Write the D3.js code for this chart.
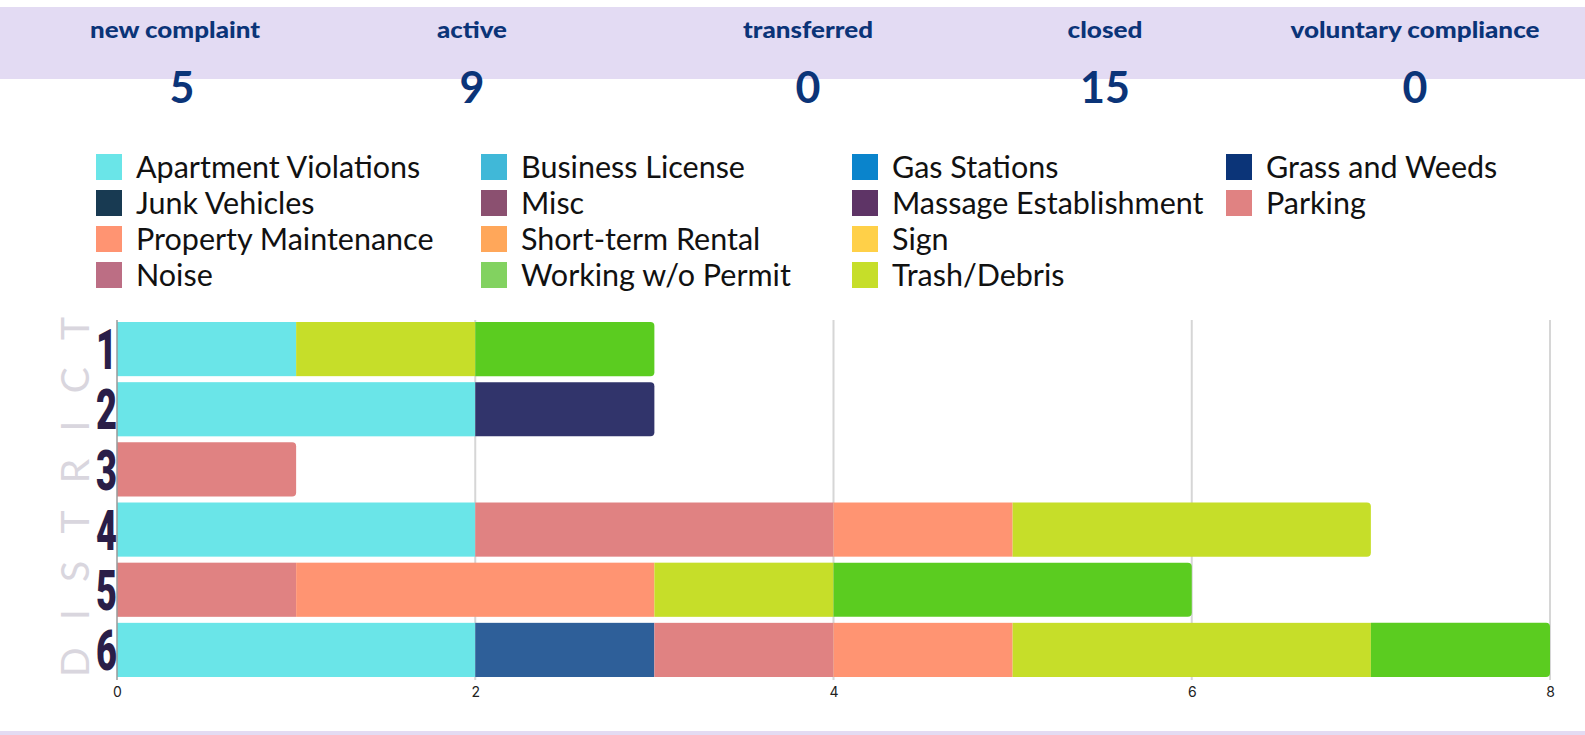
<!DOCTYPE html>
<html><head><meta charset="utf-8">
<script src="https://cdn.jsdelivr.net/npm/d3@7"></script>
<style>
html,body{margin:0;padding:0;background:#fff;}
svg{display:block;}
</style></head>
<body>
<svg id="c" width="1585" height="735"></svg>
<script>
// ---- data ----
const statLabels = ["new complaint","active","transferred","closed","voluntary compliance"];
const statValues = [5, 9, 0, 15, 0];

const districts = ["1","2","3","4","5","6"];

const legendCategories = ["Apartment Violations","Business License","Gas Stations","Grass and Weeds",
  "Junk Vehicles","Misc","Massage Establishment","Parking",
  "Property Maintenance","Short-term Rental","Sign",
  "Noise","Working w/o Permit","Trash/Debris"];
const legendColors = ["#6AE5E8","#40B8D8","#0A84CC","#0B3478",
  "#183A52","#8B5070","#5E3466","#E08282",
  "#FF9472","#FFA75A","#FFD048",
  "#BC6E84","#82D260","#C6DE29"];

// categories shown in the bars (stack order); three are not visible in the legend
const barCategories = ["Apartment Violations","Other A","Other B","Parking","Property Maintenance","Trash/Debris","Other C"];
const barColors     = ["#6AE5E8","#31346B","#2E5F99","#E08282","#FF9472","#C6DE29","#5BCC20"];

const apartmentViolations = [1,2,0,2,0,2];
const otherA              = [0,1,0,0,0,0];
const otherB              = [0,0,0,0,0,1];
const parking             = [0,0,1,2,1,1];
const propertyMaintenance = [0,0,0,1,2,1];
const trashDebris         = [1,0,0,2,1,2];
const otherC              = [1,0,0,0,2,1];

const xTicks = [0,2,4,6,8];

// ---- build ----
const seriesValues = [apartmentViolations, otherA, otherB, parking, propertyMaintenance, trashDebris, otherC];
const table = districts.map((d,i)=>{
  const row = {district:d};
  barCategories.forEach((c,j)=>row[c]=seriesValues[j][i]);
  return row;
});

const svg = d3.select("#c");
const W = 1585;

// header band
svg.append("rect").attr("x",0).attr("y",7).attr("width",W).attr("height",72).attr("fill","#E3DBF3");
svg.append("rect").attr("x",0).attr("y",731).attr("width",W).attr("height",4).attr("fill","#E3DBF3");

const statX = [175, 472, 808, 1105, 1415];
const statNumX = [182, 472, 808, 1105, 1415];
const statW = [170, 70, 130, 75, 249];
const hdr = svg.append("g");
statLabels.forEach((l,i)=>{
  hdr.append("text").attr("x",statX[i]).attr("y",38).attr("text-anchor","middle")
    .attr("font-family","Lato").attr("font-weight",900).attr("font-size",23)
    .attr("textLength",statW[i]).attr("lengthAdjust","spacingAndGlyphs")
    .attr("fill","#0B3478").text(l);
  hdr.append("text").attr("x",statNumX[i]).attr("y",103).attr("text-anchor","middle")
    .attr("font-family","Lato").attr("font-weight",700).attr("font-size",43)
    .attr("fill","#0B3478").text(statValues[i]);
});

// legend
const colX = [96, 481, 852, 1226];
const rowY = [167, 203, 239, 275];
const legendLayout = [
  [0,0],[1,0],[2,0],[3,0],
  [0,1],[1,1],[2,1],[3,1],
  [0,2],[1,2],[2,2],
  [0,3],[1,3],[2,3]
];
const lg = svg.append("g");
legendCategories.forEach((c,i)=>{
  const [col,row] = legendLayout[i];
  lg.append("rect").attr("x",colX[col]).attr("y",rowY[row]-13).attr("width",26).attr("height",26)
    .attr("fill",legendColors[i]);
  lg.append("text").attr("x",colX[col]+40).attr("y",rowY[row]).attr("dy","0.35em")
    .attr("font-family","Lato").attr("font-size",30.5).attr("fill","#111").text(c);
});

// chart
const x = d3.scaleLinear().domain([0,8]).range([117,1550]);
const y = d3.scaleBand().domain(districts).range([319,680]).paddingInner(0.1).paddingOuter(0.05);

// gridlines
svg.append("g").selectAll("line").data(xTicks.filter(t=>t>0)).join("line")
  .attr("x1",d=>x(d)).attr("x2",d=>x(d)).attr("y1",320).attr("y2",680)
  .attr("stroke","#D6D6D6").attr("stroke-width",2);

const stack = d3.stack().keys(barCategories)(table);
const colorOf = d3.scaleOrdinal().domain(barCategories).range(barColors);

// last non-empty segment per row
const lastKey = {};
table.forEach(r=>{ barCategories.forEach(c=>{ if(r[c]>0) lastKey[r.district]=c; }); });

const bars = svg.append("g");
stack.forEach(s=>{
  s.forEach(seg=>{
    if(seg[1]-seg[0] <= 0) return;
    const d = seg.data.district;
    const x0 = x(seg[0]), x1 = x(seg[1]), y0 = y(d), h = y.bandwidth();
    if(lastKey[d] === s.key){
      const r = 4;
      const p = d3.path();
      p.moveTo(x0,y0); p.lineTo(x1-r,y0); p.arcTo(x1,y0,x1,y0+r,r);
      p.lineTo(x1,y0+h-r); p.arcTo(x1,y0+h,x1-r,y0+h,r); p.lineTo(x0,y0+h); p.closePath();
      bars.append("path").attr("d",p.toString()).attr("fill",colorOf(s.key));
    } else {
      bars.append("rect").attr("x",x0).attr("y",y0).attr("width",x1-x0).attr("height",h)
        .attr("fill",colorOf(s.key));
    }
  });
});

// axis line at 0
svg.append("line").attr("x1",x(0)).attr("x2",x(0)).attr("y1",320).attr("y2",680)
  .attr("stroke","#9A9A9A").attr("stroke-width",1.5);

// x tick labels
const xa = svg.append("g").attr("transform","translate(0,687)")
  .call(d3.axisBottom(x).tickValues(xTicks).tickSize(0).tickPadding(0).tickFormat(d3.format("d")));
xa.select(".domain").remove();
xa.selectAll("text").attr("font-family","Inter").attr("font-size",14).attr("fill","#222");

// district labels
svg.append("g").selectAll("text").data(districts).join("text")
  .attr("x",117).attr("y",d=>y(d)+y.bandwidth()/2).attr("dy","0.36em")
  .attr("text-anchor","end").attr("font-family","Roboto").attr("font-weight",900)
  .attr("font-size",56).attr("textLength",21).attr("lengthAdjust","spacingAndGlyphs")
  .attr("fill","#2A1E48").text(d=>d);

// DISTRICT label
svg.append("text").attr("transform","translate(89,497) rotate(-90)")
  .attr("text-anchor","middle").attr("font-family","Lato").attr("font-weight",400)
  .attr("font-size",39).attr("fill","#D9D6DE")
  .attr("textLength",360).attr("lengthAdjust","spacing").text("DISTRICT");
</script>
</body></html>
